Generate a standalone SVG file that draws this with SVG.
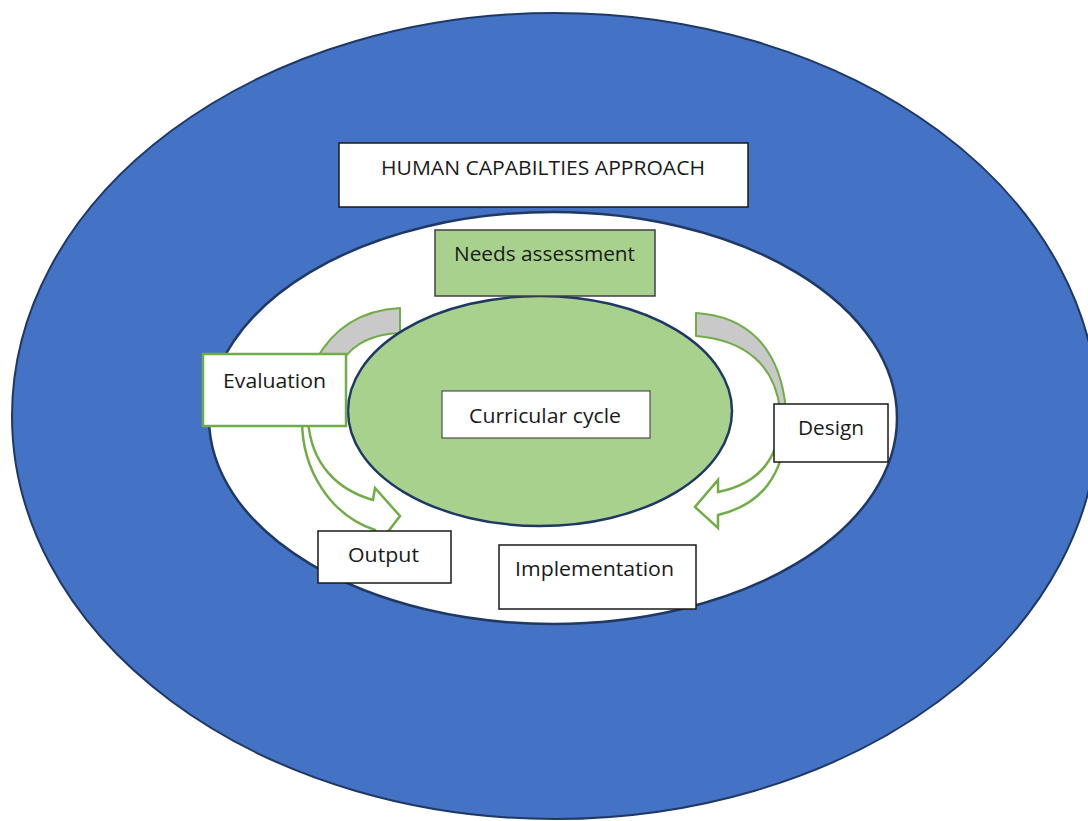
<svg xmlns="http://www.w3.org/2000/svg" width="1088" height="821" viewBox="0 0 1088 821">
<style>
.lbl{font-family:"Open Sans","Liberation Sans",sans-serif;font-size:19.5px;fill:#1a1a1a;text-anchor:middle}
.box{fill:#ffffff;stroke:#1a1a1a;stroke-width:1.5}
.gbox{fill:#ffffff;stroke:#70ad47;stroke-width:2.5}
.band{fill:#c9c9c9;stroke:#70ad47;stroke-width:2;stroke-linejoin:round}
.arrow{fill:#ffffff;stroke:#70ad47;stroke-width:2.5;stroke-linejoin:miter}
</style>
<rect width="1088" height="821" fill="#ffffff"/>
<g id="outer-ring">
<ellipse cx="555" cy="416" rx="543" ry="403" fill="#4472c4" stroke="#1f3864" stroke-width="2"/>
</g>
<g id="inner-ring">
<ellipse cx="553" cy="418" rx="344" ry="206" fill="#ffffff" stroke="#1f3864" stroke-width="2.5"/>
</g>
<g id="connectors">
<path class="band" d="M400,308 L400,333 C375,334 355,342 343,360 L316,360 C335,325 365,310 400,308 Z"/>
<path class="band" d="M696,313 C745,316 780,345 786,410 L780,410 C775,365 745,340 696,336 Z"/>
<path class="arrow" d="M308,420 C311,465 338,490 373,500 L375,488 L400,516 L377,546 L375,530 C330,515 302,470 302,420 Z"/>
<path class="arrow" d="M781,420 C778,462 755,485 718,492 L718,480 L695,507 L718,528 L718,515 C760,505 784,478 788,420 Z"/>
</g>
<g id="curricular-cycle-ellipse">
<ellipse cx="540" cy="411" rx="192" ry="115" fill="#a9d18e" stroke="#1f3864" stroke-width="2.5"/>
</g>
<g id="human-capabilities">
<rect class="box" x="339" y="143" width="409" height="64"/>
<text class="lbl" x="543" y="175" textLength="324" lengthAdjust="spacingAndGlyphs">HUMAN CAPABILTIES APPROACH</text>
</g>
<g id="needs-assessment">
<rect x="435" y="230" width="220" height="66" fill="#a9d18e" stroke="#404040" stroke-width="1.5"/>
<text class="lbl" x="544.5" y="261" textLength="181" lengthAdjust="spacingAndGlyphs">Needs assessment</text>
</g>
<g id="evaluation">
<rect class="gbox" x="203" y="354" width="143" height="72"/>
<text class="lbl" x="274.5" y="388" textLength="103" lengthAdjust="spacingAndGlyphs">Evaluation</text>
</g>
<g id="curricular-cycle">
<rect x="442" y="391" width="208" height="47" fill="#ffffff" stroke="#333333" stroke-width="1"/>
<text class="lbl" x="545" y="423" textLength="152" lengthAdjust="spacingAndGlyphs">Curricular cycle</text>
</g>
<g id="design">
<rect class="box" x="774" y="404" width="114" height="58"/>
<text class="lbl" x="831" y="435" textLength="66" lengthAdjust="spacingAndGlyphs">Design</text>
</g>
<g id="output">
<rect class="box" x="318" y="531" width="133" height="52"/>
<text class="lbl" x="383.5" y="562" textLength="71" lengthAdjust="spacingAndGlyphs">Output</text>
</g>
<g id="implementation">
<rect class="box" x="499" y="545" width="197" height="64"/>
<text class="lbl" x="594.5" y="576" textLength="159" lengthAdjust="spacingAndGlyphs">Implementation</text>
</g>
</svg>
